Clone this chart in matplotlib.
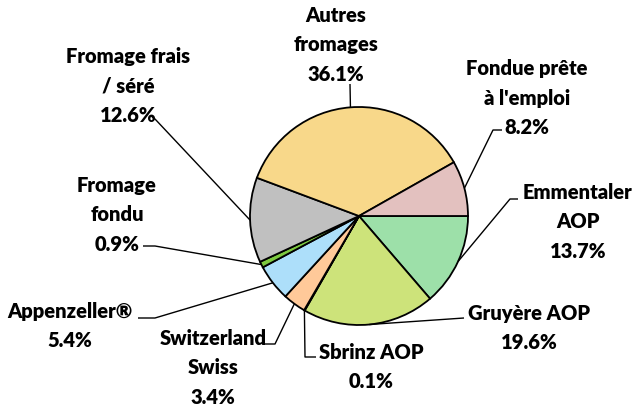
import numpy as np
import matplotlib
matplotlib.use('Agg')
import matplotlib.pyplot as plt

# slices, clockwise from 3 o'clock
labels = ["Emmentaler\nAOP", "Gruyère AOP", "Sbrinz AOP", "Switzerland\nSwiss",
          "Appenzeller®", "Fromage\nfondu", "Fromage frais\n/ séré",
          "Autres\nfromages", "Fondue prête\nà l'emploi"]
shares = [13.7, 19.6, 0.1, 3.4, 5.4, 0.9, 12.6, 36.1, 8.2]
colors = ["#9de0a9", "#cde37a", "#8fb84a", "#ffc999", "#addffa",
          "#7dc940", "#c0c0c0", "#f8d88a", "#e3c1bf"]

W, H = 638, 406
fig = plt.figure(figsize=(W / 100, H / 100), dpi=100)
ax = fig.add_axes([0, 0, 1, 1])

cx, cy, r = 359, H - 217, 109
wedges, _ = ax.pie(shares, colors=colors, startangle=0, counterclock=False,
                   center=(cx, cy), radius=r, frame=True,
                   wedgeprops=dict(edgecolor='black', linewidth=1.3))
ax.set_xlim(0, W)
ax.set_ylim(0, H)
ax.set_aspect('equal')
ax.axis('off')

# label centre (px), then leader path (px) before it reaches the slice edge
layout = [
    ((578, 222), [(518, 200), (510, 200)]),
    ((529, 328), [(464, 319)]),
    ((371, 367), [(316, 358), (305, 358)]),
    ((213, 368), [(262, 345), (275, 345)]),
    ((70, 326), [(138, 319), (155, 319)]),
    ((117, 215), [(143, 247), (155, 247)]),
    ((128, 86), [(152, 118), (155, 120)]),
    ((336, 45), [(350, 85)]),
    ((527, 98), [(502, 131), (493, 131)]),
]

font = dict(family=['Lato', 'DejaVu Sans'], fontweight='heavy', fontsize=14.5)
for w, lab, val, ((tx, ty), path) in zip(wedges, labels, shares, layout):
    ax.text(tx, H - ty, f"{lab}\n{val:.1f}%", ha='center', va='center',
            multialignment='center', linespacing=1.66, color='black', **font)
    mid = np.deg2rad((w.theta1 + w.theta2) / 2)
    ex, ey = cx + r * np.cos(mid), cy + r * np.sin(mid)
    xs = [p[0] for p in path] + [ex]
    ys = [H - p[1] for p in path] + [ey]
    ax.plot(xs, ys, color='black', linewidth=1.0, solid_capstyle='butt')

fig.savefig('out.png', dpi=100)
